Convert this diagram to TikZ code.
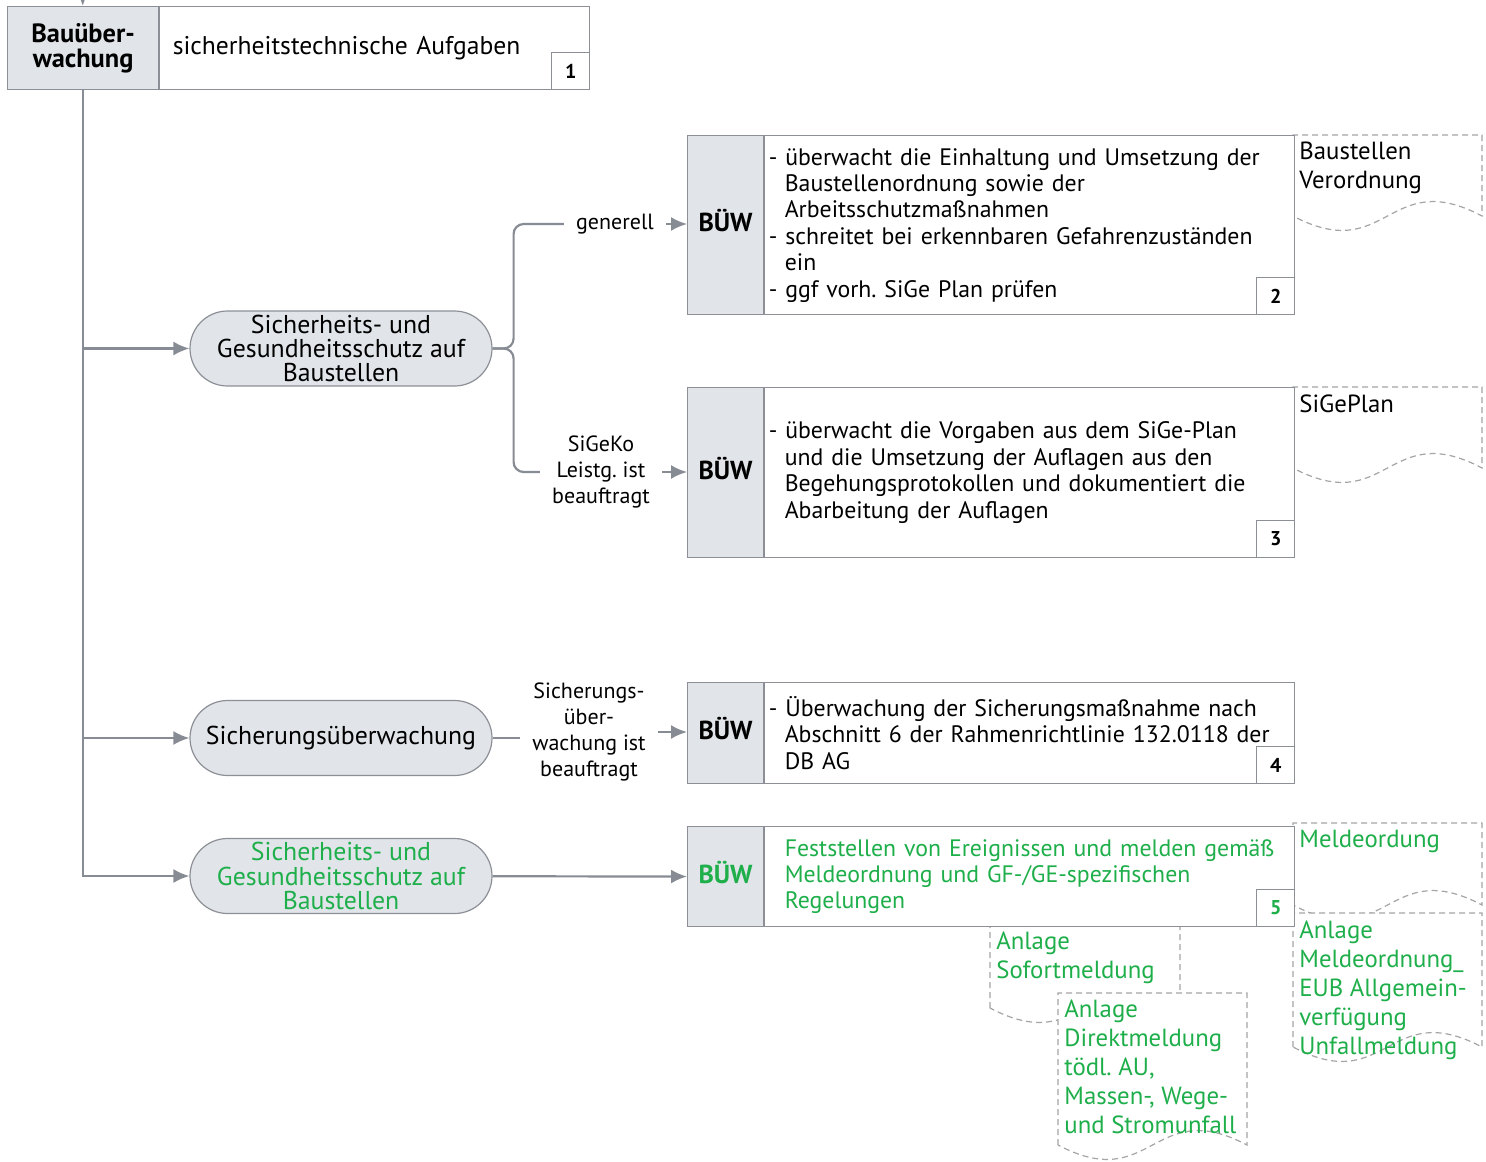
\documentclass[tikz,border=0pt]{standalone}
\usepackage{fontspec}
\setmainfont{PT Sans}
\usetikzlibrary{positioning,shapes.misc,arrows.meta}
\frenchspacing

\definecolor{rahmen}{RGB}{140,144,150}
\definecolor{hellgrau}{RGB}{225,229,234}
\definecolor{linienfarbe}{RGB}{135,140,148}
\definecolor{dokgrau}{RGB}{165,165,165}
\definecolor{dbgruen}{RGB}{30,175,75}

\tikzset{
  grau/.style={rectangle, draw=rahmen, line width=0.6pt, fill=hellgrau, inner sep=0pt,
    anchor=north west, align=center, font=\bfseries\fontsize{13}{15}\selectfont},
  buew/.style={grau, minimum width=38pt, text depth=4.5pt},
  inhalt/.style={rectangle, draw=rahmen, line width=0.6pt, fill=white, anchor=north west,
    align=left, inner xsep=2pt, inner ysep=0pt, font=\fontsize{11.9}{13.2}\selectfont},
  nummer/.style={rectangle, draw=rahmen, line width=0.6pt, fill=white, minimum width=19pt,
    minimum height=18.5pt, inner sep=0pt, anchor=south east, font=\bfseries\fontsize{10}{12}\selectfont},
  thema/.style={rounded rectangle, draw=rahmen, line width=0.6pt, fill=hellgrau,
    minimum width=151pt, minimum height=37.5pt, inner sep=0pt, align=center,
    font=\fontsize{12.9}{12.1}\selectfont},
  marke/.style={align=center, inner xsep=6pt, inner ysep=2pt, font=\fontsize{11}{13}\selectfont},
  linie/.style={draw=linienfarbe, line width=1.1pt},
  pfeil/.style={linie, -{Latex[length=8pt,width=7pt]}},
  dok/.style={draw=dokgrau, line width=0.6pt, dash pattern=on 3pt off 2pt, fill=white},
  doktext/.style={anchor=north west, align=left, inner sep=0pt, font=\fontsize{12.4}{14.5}\selectfont},
}

% Dokument mit Wellenkante: x1, y1, x2, y2
\newcommand{\dokument}[4]{%
  \draw[dok] (#1,#4) -- (#1,#2) -- (#3,#2) -- (#3,#4)
    .. controls ({(#1+#3)/2},{#4-50}) and ({(#1+#3)/2},{#4+50}) .. (#1,#4) -- cycle;}
\newcommand{\einzug}{\hspace*{8pt}}

\begin{document}
\begin{tikzpicture}[x=0.5pt,y=-0.5pt]
\useasboundingbox (0,0) rectangle (1486,1161);

% Dokumente
\dokument{1293}{135}{1482}{216}
\node[doktext] (dokbau) at (1299,142) {Baustellen\\Verordnung};
\dokument{1293}{387}{1482}{468}
\node[doktext] (doksige) at (1299,394) {SiGePlan};
\dokument{1293}{823}{1482}{905}
\node[doktext, text=dbgruen] (dokmelde) at (1299,830) {Meldeordung};
\dokument{1293}{913}{1482}{1047}
\node[doktext, text=dbgruen] (dokeub) at (1299,920) {Anlage\\Meldeordnung\_\\EUB Allgemein-\\verfügung\\Unfallmeldung};
\dokument{990}{926}{1180}{1008}
\node[doktext, text=dbgruen] (doksofort) at (996,931) {Anlage\\Sofortmeldung};
\dokument{1058}{993}{1247}{1145}
\node[doktext, text=dbgruen] (dokdirekt) at (1064,999) {Anlage\\Direktmeldung\\tödl. AU,\\Massen-, Wege-\\und Stromunfall};

% Kopf
\node[grau, minimum width=75.5pt, minimum height=41.5pt, font=\bfseries\fontsize{13.2}{12.5}\selectfont] (bauw) at (7,6) {Bauüber-\\wachung};
\node[inhalt, minimum width=215pt, minimum height=41.5pt, text width=202pt, inner xsep=6.5pt,
  font=\fontsize{12.8}{14}\selectfont] (aufg) at (bauw.north east) {sicherheitstechnische Aufgaben};
\node[nummer] (nr1) at (aufg.south east) {1};
\coordinate (oben) at (82.5,-30);

% Themen
\node[thema] (thema1) at (341,348.5) {Sicherheits- und\\Gesundheitsschutz auf\\Baustellen};
\node[thema] (thema2) at (341,738) {Sicherungsüberwachung};
\node[thema, text=dbgruen] (thema3) at (341,876) {Sicherheits- und\\Gesundheitsschutz auf\\Baustellen};

% BÜW Kasten 2
\node[buew, minimum height=89.5pt] (buew2) at (687,135) {BÜW};
\node[inhalt, minimum width=265pt, minimum height=89.5pt, text width=261pt] (text2) at (buew2.north east)
  {- überwacht die Einhaltung und Umsetzung der\\\einzug Baustellenordnung sowie der\\\einzug Arbeitsschutzmaßnahmen\\- schreitet bei erkennbaren Gefahrenzuständen\\\einzug ein\\- ggf vorh. SiGe Plan prüfen};
\node[nummer] (nr2) at (text2.south east) {2};

% BÜW Kasten 3
\node[buew, minimum height=85pt] (buew3) at (687,387) {BÜW};
\node[inhalt, minimum width=265pt, minimum height=85pt, text width=261pt] (text3) at (buew3.north east)
  {- überwacht die Vorgaben aus dem SiGe-Plan\\\einzug und die Umsetzung der Auflagen aus den\\\einzug Begehungsprotokollen und dokumentiert die\\\einzug Abarbeitung der Auflagen};
\node[nummer] (nr3) at (text3.south east) {3};

% BÜW Kasten 4
\node[buew, minimum height=50.5pt] (buew4) at (687,682) {BÜW};
\node[inhalt, minimum width=265pt, minimum height=50.5pt, text width=261pt] (text4) at (buew4.north east)
  {- Überwachung der Sicherungsmaßnahme nach\\\einzug Abschnitt 6 der Rahmenrichtlinie 132.0118 der\\\einzug DB AG};
\node[nummer] (nr4) at (text4.south east) {4};

% BÜW Kasten 5
\node[buew, minimum height=50pt, text=dbgruen] (buew5) at (687,826) {BÜW};
\node[inhalt, minimum width=265pt, minimum height=50pt, text width=261pt, text=dbgruen] (text5) at (buew5.north east)
  {\einzug Feststellen von Ereignissen und melden gemäß\\\einzug Meldeordnung und GF-/GE-spezifischen\\\einzug Regelungen};
\node[nummer, text=dbgruen] (nr5) at (text5.south east) {5};

% Beschriftungen
\node[marke] (generell) at (615,224) {generell};
\node[marke] (sigeko) at (601,472) {SiGeKo\\Leistg. ist\\beauftragt};
\node[marke] (sicher) at (589,732) {Sicherungs-\\über-\\wachung ist\\beauftragt};

% Verbindungen
\draw[pfeil] (oben) -- (bauw);
\draw[pfeil] (bauw.south) |- (thema1.west);
\draw[pfeil] (bauw.south) |- (thema2.west);
\draw[pfeil] (bauw.south) |- (thema3.west);
\draw[linie, rounded corners=5pt] (thema1.east) -- ++(21,0) |- (generell.west);
\draw[linie, rounded corners=5pt] (thema1.east) -- ++(21,0) |- (sigeko.west);
\draw[pfeil] (generell.east) -- (generell.east -| buew2.west);
\draw[pfeil] (sigeko.east) -- (sigeko.east -| buew3.west);
\draw[linie] (thema2.east) -- (thema2.east -| sicher.west);
\draw[pfeil] (sicher.east) -- (sicher.east -| buew4.west);
\draw[pfeil] (thema3) -- (buew5);
\end{tikzpicture}
\end{document}
